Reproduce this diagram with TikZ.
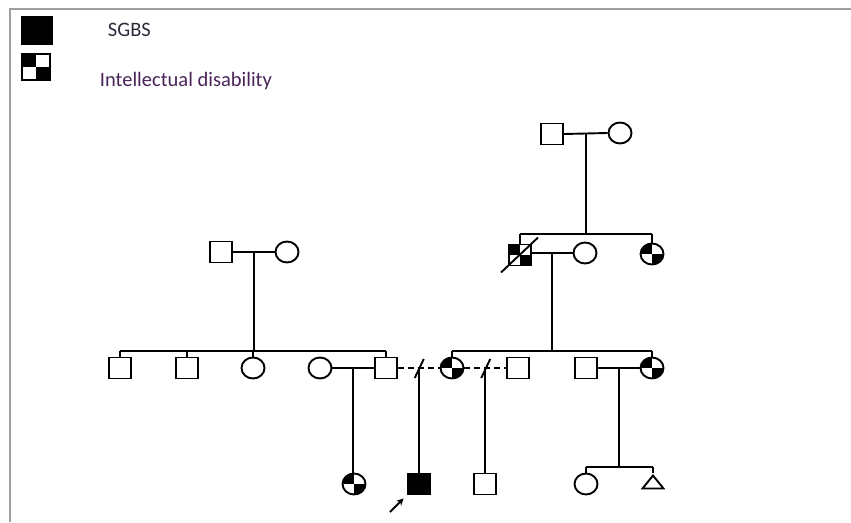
\documentclass[tikz,border=0pt]{standalone}
\usepackage{fontspec}
\setmainfont{Carlito}
\usetikzlibrary{calc,shapes.geometric,arrows.meta}
\definecolor{legA}{HTML}{2A2A3A}
\definecolor{legB}{HTML}{4A2458}
\begin{document}
\begin{tikzpicture}[x=1pt,y=-1pt,line width=1.9pt,
  sq/.style={draw,rectangle,minimum width=22pt,minimum height=21pt,inner sep=0pt,fill=white},
  ci/.style={draw,ellipse,minimum width=23pt,minimum height=21pt,inner sep=0pt,fill=white},
  idp/.style={path picture={\fill[black] (path picture bounding box.north west) rectangle (path picture bounding box.center);
     \fill[black] (path picture bounding box.center) rectangle (path picture bounding box.south east);}},
  aff/.style={fill=black},
  sep/.style={dash pattern=on 6pt off 4pt},
  legtxt/.style={anchor=base west,inner sep=0pt,font=\fontsize{20.5}{24}\selectfont}]
\useasboundingbox (0,0) rectangle (851,522);
\draw[gray!75,line width=1.3pt] (851,9) -- (10,9) -- (10,522);

% legend
\node[sq,aff,minimum width=30pt,minimum height=27pt] (legA) at (37,30.5) {};
\node[sq,idp,minimum width=28pt,minimum height=26pt] (legB) at (36,67) {};
\node[legtxt,text=legA] (tA) at (107,36) {SGBS};
\node[legtxt,text=legB] (tB) at (99,86) {Intellectual disability};

% generation I (right)
\node[sq] (g1m) at (552,134) {};
\node[ci] (g1f) at (620,133) {};
\draw (g1m.east) -- (g1f.west);
\coordinate (g1d) at ($(g1m.east)!0.5!(g1f.west)$);
\coordinate (s2) at (g1d |- 0,234);
\draw (g1d) -- (s2);

% generation II (right)
\node[sq,idp] (g2a) at (520,255) {};
\node[ci] (g2b) at (585,253) {};
\node[ci,idp] (g2c) at (652,254) {};
\draw (g2a.north |- s2) -- (g2c.north |- s2);
\draw (g2a.north |- s2) -- (g2a.north);
\draw (g2c.north |- s2) -- (g2c.north);
\draw (g2a.east |- g2b.west) -- (g2b.west);
\draw ($(g2a.south west)+(-7,6)$) -- ($(g2a.north east)+(6,-6)$);
\coordinate (g2d1) at ($(g2a.east |- g2b.west)!0.5!(g2b.west)$);
\coordinate (s3r) at (g2d1 |- 0,351);
\draw (g2d1) -- (s3r);

% generation II (left)
\node[sq] (g2d) at (221,252) {};
\node[ci] (g2e) at (287,252) {};
\draw (g2d.east) -- (g2e.west);
\coordinate (g2d2) at ($(g2d.east)!0.5!(g2e.west)$);
\coordinate (s3l) at (g2d2 |- 0,351);
\draw (g2d2) -- (s3l);

% generation III (left sibship)
\node[sq] (c1) at (120,368) {};
\node[sq] (c2) at (187,368) {};
\node[ci] (c3) at (253,368) {};
\node[ci] (c4) at (320,368) {};
\node[sq] (c5) at (386,368) {};
\draw (c1.north |- s3l) -- (c5.north |- s3l);
\foreach \n in {c1,c2,c3,c5} \draw (\n.north |- s3l) -- (\n.north);

% generation III (right sibship)
\node[ci,idp] (d1) at (452,368) {};
\node[sq] (d2) at (518,368) {};
\node[sq] (d3) at (586,368) {};
\node[ci,idp] (d4) at (652,368) {};
\draw (d1.north |- s3r) -- (d4.north |- s3r);
\foreach \n in {d1,d4} \draw (\n.north |- s3r) -- (\n.north);

% unions generation III
\draw (c4.east) -- (c5.west);
\coordinate (u1) at ($(c4.east)!0.5!(c5.west)$);
\draw[sep] (c5.east) -- (d1.west);
\coordinate (u2) at ($(c5.east)!0.5!(d1.west)$);
\draw ($(u2)+(-4,10)$) -- ($(u2)+(5,-9)$);
\draw[sep] (d1.east) -- (d2.west);
\coordinate (u3) at ($(d1.east)!0.5!(d2.west)$);
\draw ($(u3)+(-4,10)$) -- ($(u3)+(5,-9)$);
\draw (d3.east) -- (d4.west);
\coordinate (u4) at ($(d3.east)!0.5!(d4.west)$);

% generation IV
\node[ci,idp] (e1) at (354,484) {};
\node[sq,aff,minimum width=23pt] (e2) at (419,484) {};
\node[sq] (e3) at (485,484) {};
\draw (u1) -- (u1 |- e1.north);
\draw (u2) -- (u2 |- e2.north);
\draw (u3) -- (u3 |- e3.north);

\node[ci] (f1) at (586,484) {};
\node[draw,fill=white,isosceles triangle,shape border rotate=90,isosceles triangle stretches,
      minimum width=21pt,minimum height=13pt,inner sep=0pt,anchor=apex] (f2) at (653,473) {};
\coordinate (s4) at (u4 |- 0,467);
\draw (u4) -- (s4);
\draw (f1.north |- s4) -- (f2.apex |- s4);
\draw (f1.north |- s4) -- (f1.north);
\draw (f2.apex |- s4) -- (f2.apex);

% proband arrow
\coordinate (arrS) at (390,512);
\draw[-{Stealth[length=7pt,width=7pt]},line width=1.9pt] (arrS) -- ($(e2.south west)+(-3,3)$);
\end{tikzpicture}
\end{document}
